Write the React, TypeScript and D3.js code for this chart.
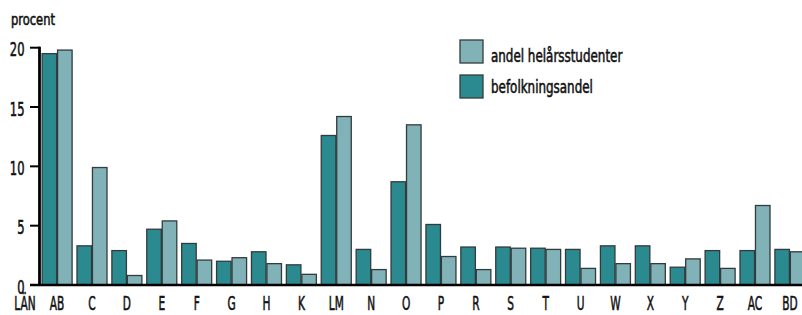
import React from "react";
import * as d3 from "d3";

const categories = ["AB","C","D","E","F","G","H","K","LM","N","O","P","R","S","T","U","W","X","Y","Z","AC","BD"];
const befolkningsandel = [19.5,3.3,2.9,4.7,3.5,2.0,2.8,1.7,12.6,3.0,8.7,5.1,3.2,3.2,3.1,3.0,3.3,3.3,1.5,2.9,2.9,3.0];
const helarsstudenter = [19.8,9.9,0.8,5.4,2.1,2.3,1.8,0.9,14.2,1.3,13.5,2.4,1.3,3.1,3.0,1.4,1.8,1.8,2.2,1.4,6.7,2.8];
const yTicks = [0,5,10,15,20];
const seriesKeys = ["befolkningsandel","andel helårsstudenter"];
const legendLabels = ["andel helårsstudenter","befolkningsandel"];

const DARK = "#2a8a8f";
const LIGHT = "#80b2b8";
const STROKE = "#333b3c";
const FONT = "'DejaVu Sans Condensed', 'DejaVu Sans', sans-serif";
const INK = "#111";

export default function App() {
  const W = 802, H = 315;
  const x = d3.scaleBand<string>().domain(categories).range([40, 807]).paddingInner(0.14).paddingOuter(0.06);
  const xi = d3.scaleBand<string>().domain(seriesKeys).range([0, x.bandwidth()]).paddingInner(0.06);
  const y = d3.scaleLinear().domain([0, 20]).range([285, 47.7]);
  const colors: Record<string, string> = { "befolkningsandel": DARK, "andel helårsstudenter": LIGHT };
  const values: Record<string, number[]> = { "befolkningsandel": befolkningsandel, "andel helårsstudenter": helarsstudenter };
  const textStroke = { stroke: INK, strokeWidth: 0.55 };

  return (
    <svg width={W} height={H} style={{ position: "absolute", left: 0, top: 0, background: "#fff" }} fontFamily={FONT} fontStretch="condensed">
      <g transform="translate(11,25) scale(0.8,1)">
        <text x={0} y={0} fontSize={16} fill={INK} {...textStroke}>procent</text>
      </g>
      {seriesKeys.map((k) =>
        categories.map((c, i) => (
          <rect key={k + c} x={(x(c) as number) + (xi(k) as number)} y={y(values[k][i])}
            width={xi.bandwidth()} height={y(0) - y(values[k][i])}
            fill={colors[k]} stroke={STROKE} strokeWidth={1.3} />
        ))
      )}
      <line x1={39.5} x2={39.5} y1={y(20) - 1} y2={y(0) + 1} stroke="#000" strokeWidth={2.8} />
      <line x1={30} x2={802} y1={y(0)} y2={y(0)} stroke="#000" strokeWidth={2.5} />
      {yTicks.map((t) => (
        <g key={t}>
          <line x1={30} x2={40} y1={y(t)} y2={y(t)} stroke="#000" strokeWidth={2} />
          <g transform={`translate(24.5,${y(t) + 8.5}) scale(0.64,1)`}>
            <text x={0} y={0} textAnchor="end" fontSize={20} fill={INK} {...textStroke}>{t}</text>
          </g>
        </g>
      ))}
      <g transform="translate(25,310) scale(0.62,1)">
        <text x={0} y={0} textAnchor="middle" fontSize={19} fill={INK} {...textStroke}>LÄN</text>
      </g>
      {categories.map((c) => (
        <g key={c} transform={`translate(${(x(c) as number) + x.bandwidth() / 2},310) scale(0.62,1)`}>
          <text x={0} y={0} textAnchor="middle" fontSize={19} fill={INK} {...textStroke}>{c}</text>
        </g>
      ))}
      {legendLabels.map((l, i) => (
        <g key={l}>
          <rect x={460} y={40 + i * 35} width={23} height={23} fill={colors[l]} stroke={STROKE} strokeWidth={1.3} />
          <g transform={`translate(491,${62 + i * 31}) scale(0.78,1)`}>
            <text x={0} y={0} fontSize={17} fill={INK} {...textStroke}>{l}</text>
          </g>
        </g>
      ))}
    </svg>
  );
}
